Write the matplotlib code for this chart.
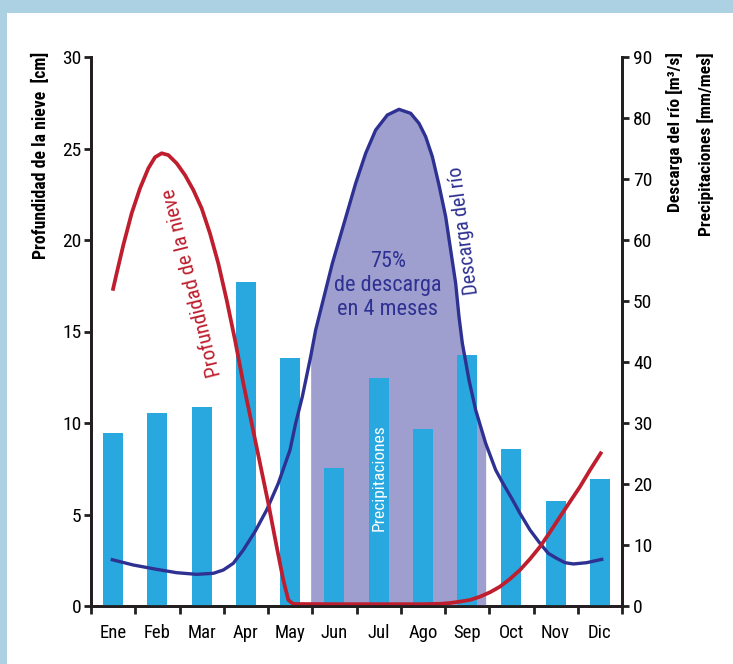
import numpy as np
import matplotlib
matplotlib.use('Agg')
from matplotlib import pyplot as plt
from matplotlib import font_manager
from matplotlib.patches import Rectangle

# Buscar una fuente estrecha disponible
nombres = {f.name for f in font_manager.fontManager.ttflist}
fuente = 'DejaVu Sans'
for cand in ['Roboto Condensed', 'Liberation Sans Narrow', 'DejaVu Sans Condensed',
             'Open Sans Condensed', 'Noto Sans Condensed']:
    if cand in nombres:
        fuente = cand
        break
plt.rcParams['font.family'] = [fuente, 'DejaVu Sans']

# Datos
meses = ['Ene', 'Feb', 'Mar', 'Apr', 'May', 'Jun', 'Jul', 'Ago', 'Sep', 'Oct', 'Nov', 'Dic']
precipitaciones = [28.3, 31.6, 32.6, 53.1, 40.6, 22.7, 37.3, 29.0, 41.1, 25.7, 17.2, 20.8]  # mm/mes

# Profundidad de la nieve [cm], x en unidades de mes (0 = inicio de enero)
nieve_x = [0.490, 0.580, 0.731, 0.919, 1.107, 1.296, 1.446, 1.597, 1.748, 1.936, 2.124,
           2.313, 2.501, 2.689, 2.877, 3.066, 3.254, 3.442, 3.631, 3.819, 4.007, 4.196,
           4.346, 4.459, 4.572, 5.5, 6.5, 7.5, 7.9, 8.10, 8.339, 8.565, 8.791, 9.017,
           9.243, 9.469, 9.695, 9.921, 10.147, 10.373, 10.599, 10.825, 11.051, 11.277,
           11.541]
nieve_y = [17.23, 18.18, 19.73, 21.46, 22.82, 23.92, 24.52, 24.74, 24.64, 24.19, 23.55,
           22.73, 21.73, 20.36, 18.72, 16.72, 14.54, 12.17, 9.98, 7.80, 5.61, 3.24,
           1.42, 0.33, 0.11, 0.1, 0.1, 0.1, 0.12, 0.16, 0.24, 0.33, 0.51, 0.75,
           1.06, 1.48, 1.97, 2.57, 3.24, 4.04, 4.88, 5.70, 6.52, 7.43, 8.43]

# Descarga del río [m3/s]
descarga_x = [0.445, 0.957, 1.484, 1.936, 2.388, 2.765, 2.990, 3.216, 3.442, 3.706, 3.970,
              4.233, 4.497, 4.625, 4.776, 4.964, 5.077, 5.266, 5.454, 5.718, 5.981, 6.207,
              6.433, 6.697, 6.960, 7.224, 7.412, 7.563, 7.714, 7.864, 8.015, 8.128, 8.241,
              8.316, 8.392, 8.542, 8.693, 8.919, 9.145, 9.318, 9.507, 9.695, 9.921, 10.147,
              10.335, 10.524, 10.712, 10.900, 11.202, 11.578]
descarga_y = [7.65, 6.72, 6.01, 5.46, 5.19, 5.36, 5.90, 7.00, 9.18, 12.19, 15.74, 20.11,
              25.57, 29.95, 34.32, 40.87, 45.25, 50.71, 56.17, 62.73, 69.29, 74.21, 78.03,
              80.49, 81.42, 80.77, 79.13, 76.94, 73.66, 69.02, 63.83, 58.36, 52.90, 47.43,
              43.06, 37.05, 32.13, 26.67, 22.30, 20.00, 17.65, 15.19, 12.46, 10.27, 8.63,
              7.81, 7.10, 6.89, 7.10, 7.70]

# Periodo de 4 meses sombreado
inicio_sombra, fin_sombra = 4.964, 8.919

rojo = '#be1e2d'
azul = '#2e3192'
cian = '#29a8e0'
lila = '#9e9fce'
marco = '#abd1e3'
eje = '#231f20'

fig = plt.figure(figsize=(7.33, 6.64), dpi=100)
fig.patch.set_facecolor(marco)
fondo = Rectangle((7 / 733, 0), 1, (664 - 13) / 664, transform=fig.transFigure,
                  facecolor='white', edgecolor='none', zorder=-10)
fig.patches.append(fondo)

ax = fig.add_axes([91 / 733, (664 - 606) / 664, (622 - 91) / 733, (606 - 57) / 664])
ax.set_facecolor('none')
ax2 = ax.twinx()

# Relleno bajo la curva de descarga
dx = np.array(descarga_x)
dy = np.array(descarga_y)
m = (dx >= inicio_sombra) & (dx <= fin_sombra)
ax2.fill_between(dx[m], 0, dy[m], color=lila, linewidth=0, zorder=1)

# Barras de precipitación
centros = np.arange(12) + 0.5
ax2.bar(centros, precipitaciones, width=0.45, color=cian, zorder=2)

# Curvas
ax2.plot(descarga_x, descarga_y, color=azul, lw=2.4, solid_capstyle='butt',
         solid_joinstyle='round', zorder=3)
ax2.plot(np.array(nieve_x), np.array(nieve_y) * 3, color=rojo, lw=2.7,
         solid_capstyle='butt', solid_joinstyle='round', zorder=4)

ax.set_xlim(0, 12)
ax.set_ylim(0, 30)
ax2.set_ylim(0, 90)

ax.set_xticks(np.arange(13))
ax.set_xticklabels([])
ax.set_xticks(centros, minor=True)
ax.set_xticklabels(meses, minor=True, fontsize=13.5)
ax.tick_params(axis='x', which='minor', length=0, pad=13)
ax.tick_params(axis='x', which='major', length=6, width=2, color=eje)

ax.set_yticks(np.arange(0, 31, 5))
ax2.set_yticks(np.arange(0, 91, 10))
ax.tick_params(axis='y', length=5, width=2, color=eje, labelsize=14, pad=2)
ax2.tick_params(axis='y', length=5, width=2, color=eje, labelsize=14, pad=3)

for a in (ax, ax2):
    a.spines['top'].set_visible(False)
    for s in ('left', 'right', 'bottom'):
        a.spines[s].set_linewidth(2)
        a.spines[s].set_color(eje)
ax2.spines['bottom'].set_zorder(5)

# Titulos de los ejes
fig.text(41 / 733, 1 - 52 / 664, 'Profundidad de la nieve  [cm]', rotation=90, ha='center',
         va='top', fontsize=12.8, fontweight='bold')
fig.text(675 / 733, 1 - 52 / 664, 'Descarga del río [m³/s]', rotation=90, ha='center',
         va='top', fontsize=12.6, fontweight='bold')
fig.text(706 / 733, 1 - 52 / 664, 'Precipitaciones [mm/mes]', rotation=90, ha='center',
         va='top', fontsize=12.6, fontweight='bold')

# Rótulos dentro del gráfico
ax.text(2.29, 17.65, 'Profundidad de la nieve', color=rojo, rotation=104, ha='center',
        va='center', fontsize=15, rotation_mode='anchor', zorder=6)
ax2.text(8.43, 61.5, 'Descarga del río', color=azul, rotation=97.5, ha='center',
         va='center', fontsize=14.5, rotation_mode='anchor', zorder=6)
ax2.text(6.71, 52.5, '75%\nde descarga\nen 4 meses', color=azul, ha='center', va='center',
         fontsize=16, linespacing=1.2, zorder=6)
ax2.text(6.52, 21.07, 'Precipitaciones', color='white', rotation=90, ha='center',
         va='center', fontsize=12.5, zorder=6)

fig.savefig('out.png', dpi=100, facecolor=fig.get_facecolor())
